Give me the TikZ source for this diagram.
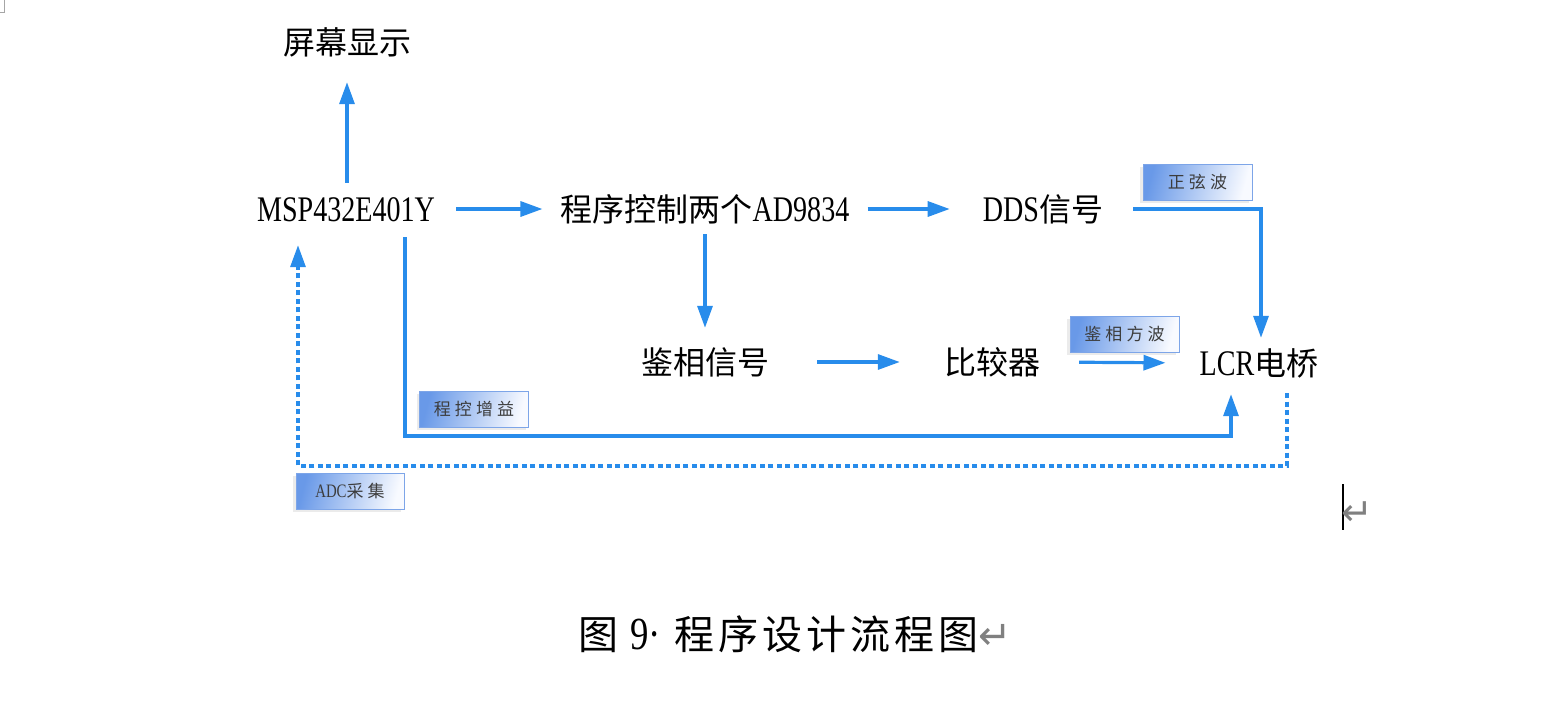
\documentclass[tikz,border=0pt]{standalone}
\usepackage{fontspec}
\setmainfont{Liberation Serif}
\newfontfamily\cjk{Noto Sans CJK SC}
\newfontfamily\lat[FakeStretch=0.78]{Liberation Serif}
\newfontfamily\cjks[LetterSpace=24]{Noto Sans CJK SC}
\newfontfamily\capc[LetterSpace=10]{Noto Sans CJK SC}
\newfontfamily\capl[FakeStretch=0.8]{Liberation Serif}
\newfontfamily\sym{DejaVu Sans}
\usetikzlibrary{arrows.meta,shadows}
\definecolor{arrblue}{RGB}{40,140,235}
\definecolor{boxL}{RGB}{105,153,232}
\definecolor{boxR}{RGB}{248,250,255}
\definecolor{boxedge}{RGB}{125,165,232}
\definecolor{labtext}{RGB}{60,60,60}
\definecolor{markgray}{RGB}{128,128,128}
\newcommand{\latb}{\lat\fontsize{36}{40}\selectfont}
\tikzset{
  main/.style={inner sep=0pt, font=\cjk\fontsize{32}{36}\selectfont, text height=28pt, text depth=4pt, anchor=center},
  lab/.style={minimum width=109pt, minimum height=36pt, inner sep=0pt, draw=boxedge, line width=1pt,
    left color=boxL, right color=boxR, shading angle=75, text=labtext,
    font=\cjks\fontsize{17}{20}\selectfont,
    drop shadow={shadow xshift=-3pt, shadow yshift=-3pt, opacity=0.08, fill=black}},
  arr/.style={draw=arrblue, line width=3.2pt, -{Triangle[length=22pt,width=15pt]}},
  dotarr/.style={arr, dash pattern=on 5pt off 3.5pt},
}
\begin{document}
\begin{tikzpicture}[x=1pt,y=-1pt]
\useasboundingbox (0,0) rectangle (1542,705);
\fill[white] (0,0) rectangle (1542,705);
% page corner mark
\draw[markgray!70, line width=1pt] (4.5,0) -- (4.5,12.5) -- (0,12.5);

% main nodes
\node[main] (screen) at (347,42) {屏幕显示};
\node[main] (msp) at (346,209) {\latb MSP432E401Y};
\node[main] (ctrl) at (705,209) {程序控制两个\latb AD9834};
\node[main] (dds) at (1043,209) {\latb DDS\cjk\fontsize{32}{36}\selectfont 信号};
\node[main] (phase) at (705,362) {鉴相信号};
\node[main] (cmp) at (992,362) {比较器};
\node[main] (lcr) at (1259,363) {\latb LCR\cjk\fontsize{32}{36}\selectfont 电桥};

% labels
\node[lab] (sine) at (1197.5,182) {正弦波};
\node[lab] (sqw) at (1124.5,334) {鉴相方波};
\node[lab] (gainl) at (474,409) {程控增益};
\node[lab, minimum width=108pt] (adcl) at (350,491) {{\lat\fontsize{19}{20}\selectfont ADC}采集};

% connectors
\draw[arr, shorten <=10pt, shorten >=24pt] (msp.north -| screen.south) -- (screen.south);
\draw[arr, shorten <=21pt, shorten >=18pt] (msp.east) -- (ctrl.west);
\draw[arr, shorten <=18pt, shorten >=33pt] (ctrl.east) -- (dds.west);
\coordinate (d1) at ([xshift=30pt]dds.east);
\coordinate (d2) at ([xshift=2pt]lcr.north);
\draw[arr, shorten >=9pt] (d1) -| (d2);
\draw[arr, shorten <=9pt, shorten >=18pt] (ctrl.south) -- (phase.north);
\draw[arr, shorten <=48pt, shorten >=44pt] (phase.east) -- (cmp.west);
\draw[arr, shorten <=39pt, shorten >=34pt] (cmp.east) -- (lcr.west);

\coordinate (gainy) at (0,436);
\coordinate (g1) at ([xshift=59pt,yshift=-12pt]msp.south);
\coordinate (g2) at ([xshift=-28pt]lcr.south);
\draw[arr, shorten >=15pt] (g1) -- (g1 |- gainy) -- (g2 |- gainy) -- (g2);

\coordinate (adcy) at (0,466);
\coordinate (a1) at ([xshift=28pt,yshift=-14pt]lcr.south);
\coordinate (a2) at ([xshift=-48pt]msp.south);
\draw[dotarr, shorten >=20pt] (a1) -- (a1 |- adcy) -- (a2 |- adcy) -- (a2);

% caption
\node[anchor=west, inner sep=0pt] (cap) at (578,634)
  {\capc\fontsize{40}{44}\selectfont 图\hspace{12pt}{\capl\fontsize{46}{50}\selectfont 9·}\hspace{14pt}程序设计流程图{\sym\fontsize{40}{44}\selectfont\color{markgray}↵}};

% text cursor and paragraph mark
\draw[black, line width=2pt] (1343,484) -- (1343,530);
\node[inner sep=0pt, text=markgray, font=\sym\fontsize{38}{40}\selectfont] (para) at (1357,514) {↵};
\end{tikzpicture}
\end{document}
